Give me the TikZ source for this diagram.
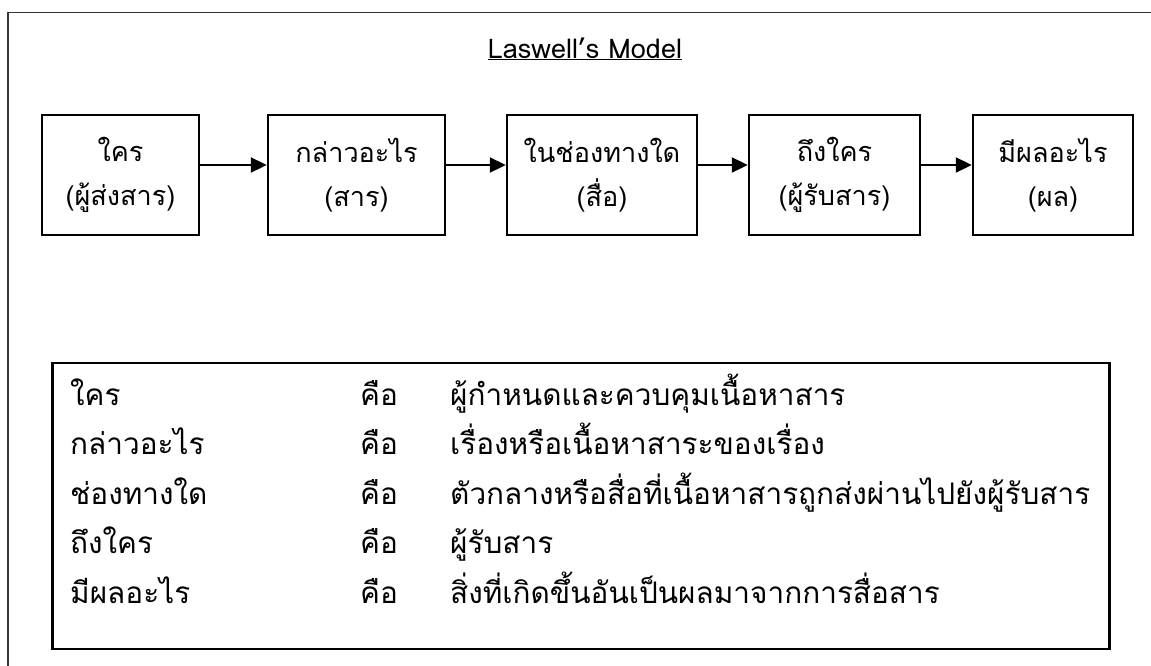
\documentclass[tikz,border=0pt]{standalone}
\usepackage{fontspec}
\usetikzlibrary{arrows.meta}
\newfontfamily\thaifont[Script=Thai]{Loma}
\newsavebox\measbox
\begin{document}
\sbox\measbox{\thaifont\fontsize{10}{12}\selectfont ตัวกลางหรือสื่อที่เนื้อหาสารถูกส่งผ่านไปยังผู้รับสาร}%
\pgfmathsetmacro\fs{min(31,max(24,10*640/\wd\measbox))}%
\pgfmathsetmacro\bfs{0.91*\fs}%
\begin{tikzpicture}[x=1pt,y=-1pt,
  frame/.style={line width=1.6pt,draw=black!80},
  flowbox/.style={draw,line width=2.4pt,minimum height=120pt,align=center,inner sep=0pt,
     font=\thaifont\fontsize{\bfs}{44}\selectfont},
  flowarrow/.style={line width=2pt,-{Triangle[length=16pt,width=15pt]}},
  txt/.style={anchor=base west,inner sep=0pt,font=\thaifont\fontsize{\fs}{32}\selectfont},
  infobox/.style={draw,line width=2.4pt}]
\useasboundingbox (0,0) rectangle (1151,665);
\draw[frame] (8,670) -- (8,12.5) -- (1156,12.5);
\node[anchor=base,inner sep=0pt,font=\thaifont\fontsize{\bfs}{32}\selectfont] (title) at (585,58) {\underline{Laswell’s Model}};
\node[flowbox,minimum width=157pt] (b1) at (120.5,175) {ใคร\\(ผู้ส่งสาร)};
\node[flowbox,minimum width=177pt] (b2) at (356.5,175) {กล่าวอะไร\\(สาร)};
\node[flowbox,minimum width=190pt] (b3) at (602,175) {ในช่องทางใด\\(สื่อ)};
\node[flowbox,minimum width=171pt] (b4) at (834.5,175) {ถึงใคร\\(ผู้รับสาร)};
\node[flowbox,minimum width=160pt] (b5) at (1053,175) {มีผลอะไร\\(ผล)};
\draw[flowarrow] ([yshift=10pt]b1.east) -- ([yshift=10pt]b2.west);
\draw[flowarrow] ([yshift=10pt]b2.east) -- ([yshift=10pt]b3.west);
\draw[flowarrow] ([yshift=10pt]b3.east) -- ([yshift=10pt]b4.west);
\draw[flowarrow] ([yshift=10pt]b4.east) -- ([yshift=10pt]b5.west);
\node[infobox,minimum width=1057pt,minimum height=286pt] (info) at (581,506) {};
\node[txt] (a1) at (70,405) {ใคร};
\node[txt] (a2) at (70,454.5) {กล่าวอะไร};
\node[txt] (a3) at (70,504) {ช่องทางใด};
\node[txt] (a4) at (70,553.5) {ถึงใคร};
\node[txt] (a5) at (70,603) {มีผลอะไร};
\node[txt] (k1) at (360,405) {คือ};
\node[txt] (k2) at (360,454.5) {คือ};
\node[txt] (k3) at (360,504) {คือ};
\node[txt] (k4) at (360,553.5) {คือ};
\node[txt] (k5) at (360,603) {คือ};
\node[txt] (d1) at (450,405) {ผู้กำหนดและควบคุมเนื้อหาสาร};
\node[txt] (d2) at (450,454.5) {เรื่องหรือเนื้อหาสาระของเรื่อง};
\node[txt] (d3) at (450,504) {ตัวกลางหรือสื่อที่เนื้อหาสารถูกส่งผ่านไปยังผู้รับสาร};
\node[txt] (d4) at (450,553.5) {ผู้รับสาร};
\node[txt] (d5) at (450,603) {สิ่งที่เกิดขึ้นอันเป็นผลมาจากการสื่อสาร};
\end{tikzpicture}
\end{document}
